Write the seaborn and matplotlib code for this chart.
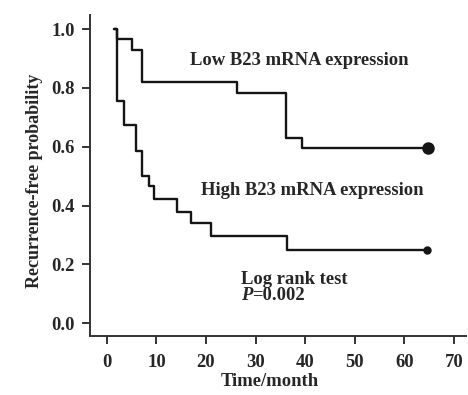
import pandas as pd
import matplotlib
matplotlib.use("Agg")
import matplotlib.pyplot as plt
import seaborn as sns

# Kaplan-Meier curves (time in months, step-post)
low_time = [1.4, 2.0, 5.0, 7.1, 26.2, 36.1, 39.3, 64.9]
low_surv = [1.0, 0.966, 0.929, 0.820, 0.782, 0.629, 0.595, 0.595]
high_time = [1.4, 2.0, 3.4, 5.8, 7.1, 8.5, 9.5, 14.1, 16.9, 21.0, 36.3, 64.7]
high_surv = [1.0, 0.755, 0.673, 0.585, 0.500, 0.466, 0.422, 0.378, 0.340, 0.296, 0.248, 0.248]
groups = ["Low B23 mRNA expression", "High B23 mRNA expression"]
x_ticks = [0, 10, 20, 30, 40, 50, 60, 70]
y_ticks = [0.0, 0.2, 0.4, 0.6, 0.8, 1.0]

df = pd.concat([
    pd.DataFrame({"time": low_time, "surv": low_surv, "group": groups[0]}),
    pd.DataFrame({"time": high_time, "surv": high_surv, "group": groups[1]}),
])

sns.set_style("ticks")
plt.rcParams["font.family"] = ["Liberation Serif", "DejaVu Serif"]
plt.rcParams["font.weight"] = "bold"

fig = plt.figure(figsize=(4.68, 3.95), dpi=100)
ax = fig.add_axes([0.192, 0.149, 0.803, 0.813])

sns.lineplot(data=df, x="time", y="surv", hue="group", palette=["#151515", "#151515"],
             estimator=None, drawstyle="steps-post", linewidth=1.7, legend=False, ax=ax)

# censor dots at the end of follow-up
ax.plot(low_time[-1], low_surv[-1], "o", color="#151515", markersize=8)
ax.plot(high_time[-1], high_surv[-1], "o", color="#151515", markersize=5)

fs = 13.4
ax.text(16.7, 0.895, groups[0], fontsize=fs, fontweight="bold", va="center")
ax.text(19.0, 0.452, groups[1], fontsize=fs, fontweight="bold", va="center")
ax.text(27.0, 0.150, "Log rank test", fontsize=fs, fontweight="bold", va="center")
p = ax.text(27.0, 0.095, "P", fontsize=fs, fontweight="bold", style="italic", va="center")
ax.annotate("=0.002", xy=(1, 0), xycoords=p, fontsize=fs, fontweight="bold", va="bottom")

ax.set_xlim(-3.43, 72.4)
ax.set_ylim(-0.044, 1.048)
ax.set_xticks(x_ticks)
ax.set_yticks(y_ticks)
ax.set_yticklabels([f"{v:.1f}" for v in y_ticks])
ax.set_xlabel("Time/month", fontsize=fs, fontweight="bold")
ax.set_ylabel("Recurrence-free probability", fontsize=13, fontweight="bold")
ax.xaxis.set_label_coords(0.479, -0.115)
ax.yaxis.set_label_coords(-0.125, 0.485)
ax.tick_params(labelsize=fs, length=6, width=1.4, color="#333333", pad=5)
ax.tick_params(axis="x", pad=7)
for lab in ax.get_xticklabels() + ax.get_yticklabels():
    lab.set_fontweight("bold")
sns.despine(ax=ax)
for s in ["left", "bottom"]:
    ax.spines[s].set_linewidth(1.4)
    ax.spines[s].set_color("#333333")

fig.savefig("out.png", dpi=100)
